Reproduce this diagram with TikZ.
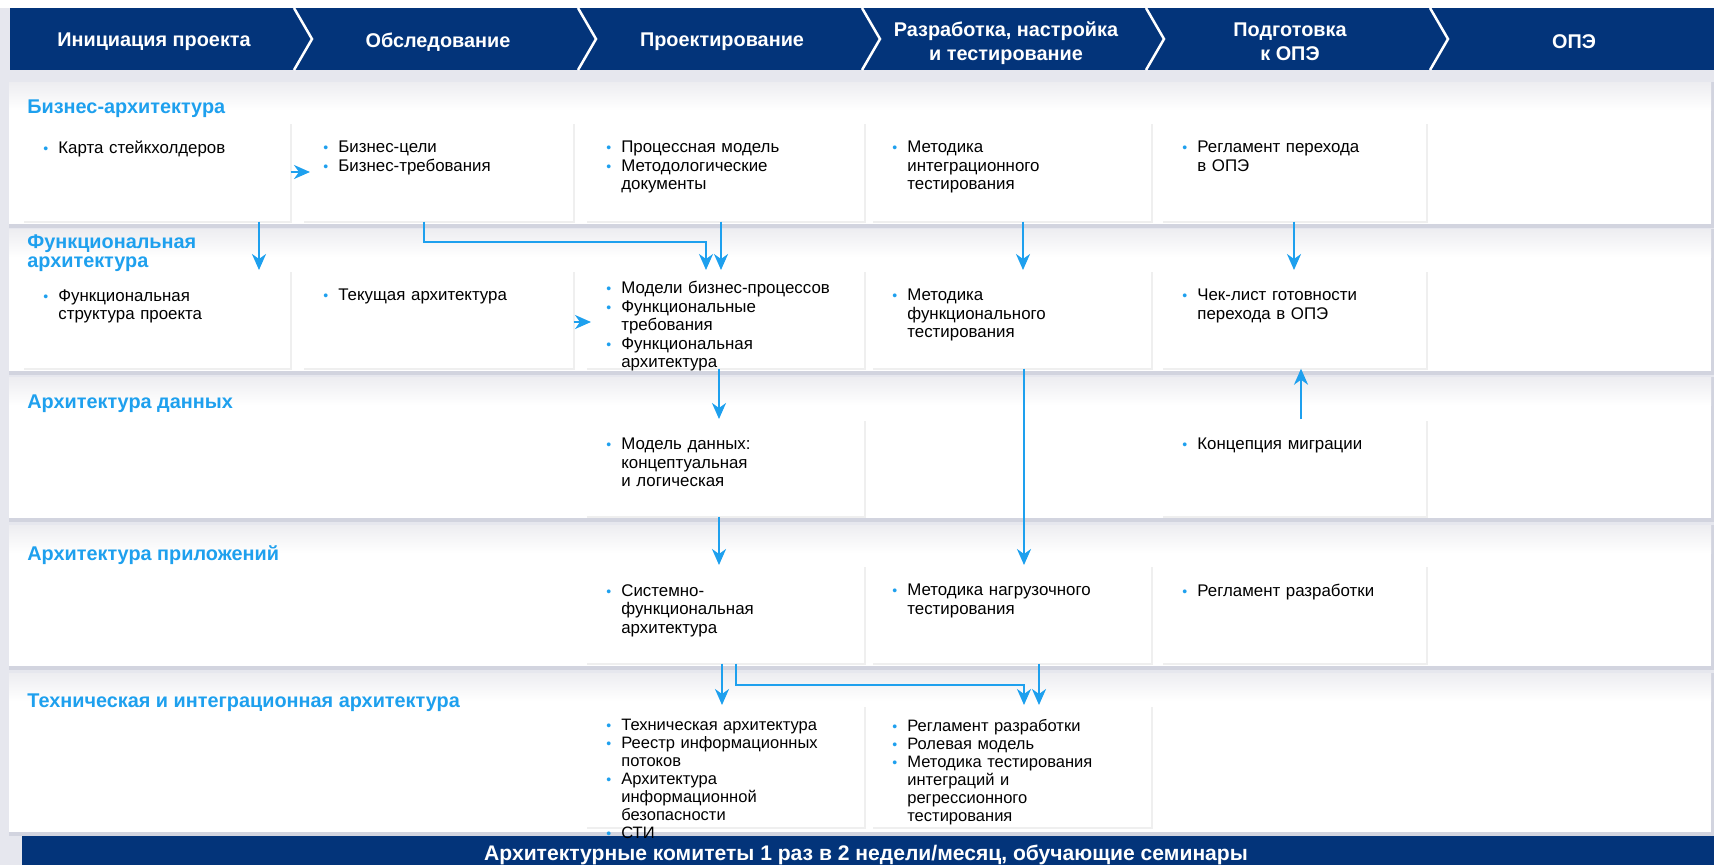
\documentclass[tikz,border=0pt]{standalone}
\usepackage{fontspec}
\setmainfont{Liberation Sans}
\usetikzlibrary{arrows.meta,shadows}

\definecolor{navy}{HTML}{03347A}
\definecolor{accent}{HTML}{1EA0EE}
\definecolor{pagebg}{HTML}{E6E7EE}
\definecolor{lanegap}{HTML}{D2D4DF}
\definecolor{laneshade}{HTML}{EDEDF1}

\newcommand{\bl}{\makebox[3mm][l]{\textcolor{accent}{\fontsize{8}{8}\selectfont •}}}
\newcommand{\gap}{\hspace*{3mm}}

\begin{document}
\begin{tikzpicture}[x=0.2mm, y=-0.2mm,
  phase/.style={text=white, font=\bfseries\fontsize{11.3}{13.6}\selectfont, align=center, inner sep=0pt},
  lane/.style={text=accent, font=\bfseries\fontsize{11.3}{11}\selectfont, align=left, anchor=west, inner sep=0pt},
  card/.style={fill=white, inner sep=0pt, anchor=north west, drop shadow={shadow xshift=1.2pt, shadow yshift=-1.2pt, opacity=0.12}},
  ctext/.style={anchor=north west, inner sep=0pt, text width=52mm, align=left, font=\fontsize{9.6}{10.5}\selectfont},
  flow/.style={draw=accent, line width=0.42mm, -{Stealth[length=3.2mm, width=2.8mm, inset=1mm]}}]
  \useasboundingbox (0,0) rectangle (1714,865);
  \fill[pagebg] (0,0) rectangle (1714,865);
  \fill[white] (0,0) rectangle (1714,8);

  % phases
  \fill[navy] (10,8) rectangle (1714,70);
  \draw[white, line width=0.5mm] (294,8) -- (312,39) -- (294,70);
  \draw[white, line width=0.5mm] (578,8) -- (596,39) -- (578,70);
  \draw[white, line width=0.5mm] (862,8) -- (880,39) -- (862,70);
  \draw[white, line width=0.5mm] (1146,8) -- (1164,39) -- (1146,70);
  \draw[white, line width=0.5mm] (1430,8) -- (1448,39) -- (1430,70);
  \node[phase] (ph1) at (154,42) {Инициация проекта};
  \node[phase] (ph2) at (438,42) {Обследование};
  \node[phase] (ph3) at (722,42) {Проектирование};
  \node[phase] (ph4) at (1006,43) {Разработка, настройка\\и тестирование};
  \node[phase] (ph5) at (1290,42) {Подготовка\\к ОПЭ};
  \node[phase] (ph6) at (1574,42) {ОПЭ};

  % lanes
  \fill[lanegap] (9,82) rectangle (1714,228);
  \fill[white] (9,82) rectangle (1711,224);
  \shade[top color=laneshade, bottom color=white] (9,82) rectangle (1711,110);
  \fill[lanegap] (9,229) rectangle (1714,375);
  \fill[white] (9,229) rectangle (1711,371);
  \shade[top color=laneshade, bottom color=white] (9,229) rectangle (1711,257);
  \fill[lanegap] (9,377) rectangle (1714,522);
  \fill[white] (9,377) rectangle (1711,518);
  \shade[top color=laneshade, bottom color=white] (9,377) rectangle (1711,405);
  \fill[lanegap] (9,525) rectangle (1714,670);
  \fill[white] (9,525) rectangle (1711,666);
  \shade[top color=laneshade, bottom color=white] (9,525) rectangle (1711,553);
  \fill[lanegap] (9,673) rectangle (1714,836);
  \fill[white] (9,673) rectangle (1711,832);
  \shade[top color=laneshade, bottom color=white] (9,673) rectangle (1711,701);

  % committee bar
  \fill[navy] (22,836) rectangle (1714,865);
  \node[phase, font=\bfseries\fontsize{12}{13}\selectfont] (komitet) at (866,855) {Архитектурные комитеты 1 раз в 2 недели/месяц, обучающие семинары};

  % business
  \node[card, minimum width=53.6mm, minimum height=19.8mm] (bizA) at (22,122) {};
  \node[card, minimum width=54.2mm, minimum height=19.8mm] (bizB) at (302,122) {};
  \node[card, minimum width=55.8mm, minimum height=19.8mm] (bizC) at (585,122) {};
  \node[card, minimum width=56mm, minimum height=19.8mm] (bizD) at (871,122) {};
  \node[card, minimum width=53mm, minimum height=19.8mm] (bizE) at (1161,122) {};
  \node[ctext] (bizAt) at ([shift={(21,19)}]bizA.north west) {\bl Карта стейкхолдеров};
  \node[ctext] (bizBt) at ([shift={(21,19)}]bizB.north west) {\bl Бизнес-цели\\\bl Бизнес-требования};
  \node[ctext] (bizCt) at ([shift={(21,19)}]bizC.north west) {\bl Процессная модель\\\bl Методологические\\\gap документы};
  \node[ctext] (bizDt) at ([shift={(21,19)}]bizD.north west) {\bl Методика\\\gap интеграционного\\\gap тестирования};
  \node[ctext] (bizEt) at ([shift={(21,19)}]bizE.north west) {\bl Регламент перехода\\\gap в ОПЭ};

  % functional
  \node[card, minimum width=53.6mm, minimum height=19.6mm] (funA) at (22,270) {};
  \node[card, minimum width=54.2mm, minimum height=19.6mm] (funB) at (302,270) {};
  \node[card, minimum width=55.8mm, minimum height=19.6mm] (funC) at (585,270) {};
  \node[card, minimum width=56mm, minimum height=19.6mm] (funD) at (871,270) {};
  \node[card, minimum width=53mm, minimum height=19.6mm] (funE) at (1161,270) {};
  \node[ctext] (funAt) at ([shift={(21,19)}]funA.north west) {\bl Функциональная\\\gap структура проекта};
  \node[ctext] (funBt) at ([shift={(21,19)}]funB.north west) {\bl Текущая архитектура};
  \node[ctext] (funCt) at ([shift={(21,11)}]funC.north west) {\bl Модели бизнес-процессов\\\bl Функциональные\\\gap требования\\\bl Функциональная\\\gap архитектура};
  \node[ctext] (funDt) at ([shift={(21,19)}]funD.north west) {\bl Методика\\\gap функционального\\\gap тестирования};
  \node[ctext] (funEt) at ([shift={(21,19)}]funE.north west) {\bl Чек-лист готовности\\\gap перехода в ОПЭ};

  % data
  \node[card, minimum width=55.8mm, minimum height=19.4mm] (datC) at (585,419) {};
  \node[card, minimum width=53mm, minimum height=19.4mm] (datE) at (1161,419) {};
  \node[ctext] (datCt) at ([shift={(21,19)}]datC.north west) {\bl Модель данных:\\\gap концептуальная\\\gap и логическая};
  \node[ctext] (datEt) at ([shift={(21,19)}]datE.north west) {\bl Концепция миграции};

  % applications
  \node[card, minimum width=55.8mm, minimum height=19.6mm] (appC) at (585,565) {};
  \node[card, minimum width=56mm, minimum height=19.6mm] (appD) at (871,565) {};
  \node[card, minimum width=53mm, minimum height=19.6mm] (appE) at (1161,565) {};
  \node[ctext] (appCt) at ([shift={(21,19)}]appC.north west) {\bl Системно-\\\gap функциональная\\\gap архитектура};
  \node[ctext] (appDt) at ([shift={(21,19)}]appD.north west) {\bl Методика нагрузочного\\\gap тестирования};
  \node[ctext] (appEt) at ([shift={(21,19)}]appE.north west) {\bl Регламент разработки};

  % technical
  \node[card, minimum width=55.8mm, minimum height=24.4mm] (tecC) at (585,705) {};
  \node[card, minimum width=56mm, minimum height=24.4mm] (tecD) at (871,705) {};
  \node[ctext, font=\fontsize{9.4}{10.2}\selectfont] (tecCt) at ([shift={(21,14)}]tecC.north west) {\bl Техническая архитектура\\\bl Реестр информационных\\\gap потоков\\\bl Архитектура\\\gap информационной\\\gap безопасности\\\bl СТИ};
  \node[ctext, font=\fontsize{9.4}{10.2}\selectfont] (tecDt) at ([shift={(21,14)}]tecD.north west) {\bl Регламент разработки\\\bl Ролевая модель\\\bl Методика тестирования\\\gap интеграций и\\\gap регрессионного\\\gap тестирования};

  % lane titles
  \node[lane] (labBiz) at (27,109) {Бизнес-архитектура};
  \node[lane] (labFun) at (27,253) {Функциональная\\архитектура};
  \node[lane] (labDat) at (27,404) {Архитектура данных};
  \node[lane] (labApp) at (27,555) {Архитектура приложений};
  \node[lane] (labTec) at (27,703) {Техническая и интеграционная архитектура};

  % flows
  \draw[flow] ([shift={(0,50)}]bizA.north east) -- ([shift={(8,50)}]bizB.north west);
  \draw[flow] ([shift={(237,0)}]bizA.south west) -- ([shift={(237,0)}]funA.north west);
  \draw[flow] ([shift={(122,0)}]bizB.south west) |- ([shift={(121,-28)}]funC.north west) -- ([shift={(121,0)}]funC.north west);
  \draw[flow] ([shift={(136,0)}]bizC.south west) -- ([shift={(136,0)}]funC.north west);
  \draw[flow] ([shift={(152,0)}]bizD.south west) -- ([shift={(152,0)}]funD.north west);
  \draw[flow] ([shift={(133,0)}]bizE.south west) -- ([shift={(133,0)}]funE.north west);
  \draw[flow] ([shift={(0,52)}]funB.north east) -- ([shift={(6,52)}]funC.north west);
  \draw[flow] ([shift={(134,0)}]funC.south west) -- ([shift={(134,0)}]datC.north west);
  \draw[flow] ([shift={(153,0)}]funD.south west) -- ([shift={(153,0)}]appD.north west);
  \draw[flow] ([shift={(140,0)}]datE.north west) -- ([shift={(140,0)}]funE.south west);
  \draw[flow] ([shift={(134,0)}]datC.south west) -- ([shift={(134,0)}]appC.north west);
  \draw[flow] ([shift={(137,0)}]appC.south west) -- ([shift={(137,0)}]tecC.north west);
  \draw[flow] ([shift={(151,0)}]appC.south west) |- ([shift={(153,-20)}]tecD.north west) -- ([shift={(153,0)}]tecD.north west);
  \draw[flow] ([shift={(168,0)}]appD.south west) -- ([shift={(168,0)}]tecD.north west);

\end{tikzpicture}
\end{document}
